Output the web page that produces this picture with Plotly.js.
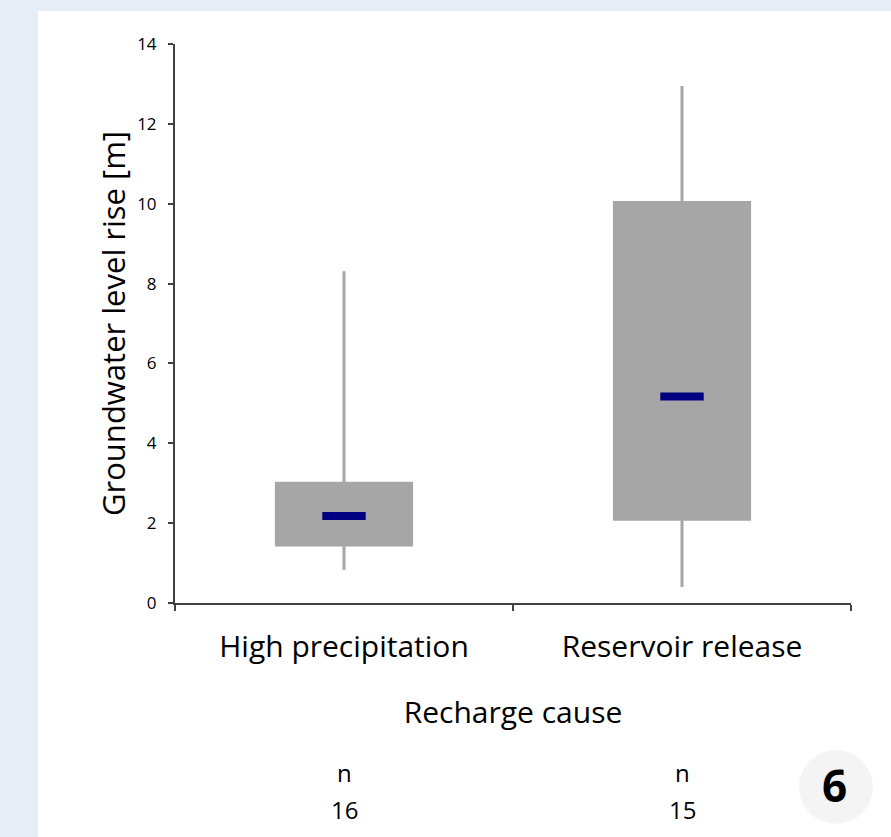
<!DOCTYPE html>
<html>
<head>
<meta charset="utf-8">
<script src="https://cdn.plot.ly/plotly-3.0.1.min.js"></script>
<style>html,body{margin:0;padding:0;background:#e6edf6;}</style>
</head>
<body>
<div id="chart" style="width:891px;height:837px;"></div>
<script>
// Data
const categories = ["High precipitation", "Reservoir release"];
const lowerWhisker = [0.83, 0.40];
const q1Values = [1.45, 2.10];
const medianValues = [2.18, 5.17];
const q3Values = [3.00, 10.03];
const upperWhisker = [8.31, 12.95];
const sampleSizes = [16, 15];
const yTicks = [0, 2, 4, 6, 8, 10, 12, 14];

const FONT = "'Open Sans', Lato, sans-serif";

const boxTrace = {
  type: "box",
  x: categories,
  q1: q1Values,
  median: medianValues,
  q3: q3Values,
  lowerfence: lowerWhisker,
  upperfence: upperWhisker,
  boxpoints: false,
  fillcolor: "#a6a6a6",
  line: {color: "#a6a6a6", width: 3},
  whiskerwidth: 0,
  width: 0.4,
  hoverinfo: "skip",
  showlegend: false
};

const medianTrace = {
  type: "scatter",
  mode: "markers",
  x: categories,
  y: medianValues,
  marker: {symbol: "line-ew", size: 31, color: "#000080", line: {color: "#000080", width: 8}},
  hoverinfo: "skip",
  showlegend: false
};

const annotations = [];
categories.forEach((c, i) => {
  annotations.push({xref: "x", yref: "paper", x: c, y: -0.304, text: "n", showarrow: false,
    font: {family: FONT, size: 24, color: "#000"}, xanchor: "center", yanchor: "middle"});
  annotations.push({xref: "x", yref: "paper", x: c, y: -0.370, text: String(sampleSizes[i]), showarrow: false,
    font: {family: FONT, size: 24, color: "#000"}, xanchor: "center", yanchor: "middle"});
});
annotations.push({xref: "paper", yref: "paper", x: 0.9763, y: -0.326, text: "<b>6</b>", showarrow: false,
  font: {family: FONT, size: 44, color: "#000"}, xanchor: "center", yanchor: "middle"});

const layout = {
  width: 891, height: 837,
  margin: {l: 175, r: 40, t: 44, b: 234},
  paper_bgcolor: "#e6edf6",
  plot_bgcolor: "#ffffff",
  font: {family: FONT, color: "#000"},
  shapes: [
    {type: "rect", xref: "paper", yref: "paper", x0: -0.2027, x1: 1.06, y0: -0.42, y1: 1.059,
      fillcolor: "#ffffff", line: {width: 0}, layer: "below"},
    {type: "circle", xref: "paper", yref: "paper", x0: 0.923, x1: 1.0325, y0: -0.395, y1: -0.263,
      fillcolor: "#f4f4f4", line: {width: 0}, layer: "below"}
  ],
  xaxis: {
    type: "category",
    range: [-0.5, 1.5],
    showline: true, linecolor: "#404040", linewidth: 2,
    ticks: "outside", tickson: "boundaries", ticklen: 6, tickwidth: 2, tickcolor: "#404040",
    tickfont: {family: FONT, size: 30, color: "#000"},
    ticklabelstandoff: 16,
    showgrid: false, zeroline: false,
    title: {text: "Recharge cause", font: {family: FONT, size: 30, color: "#000"}, standoff: 37},
    automargin: false,
    fixedrange: true
  },
  yaxis: {
    range: [0, 14],
    tickvals: yTicks,
    ticktext: yTicks.map(String),
    showline: true, linecolor: "#404040", linewidth: 2,
    ticks: "outside", ticklen: 5, tickwidth: 2, tickcolor: "#404040",
    tickfont: {family: FONT, size: 17, color: "#000"},
    ticklabelstandoff: 8,
    showgrid: false, zeroline: false,
    title: {text: "Groundwater level rise [m]", font: {family: FONT, size: 31, color: "#000"}, standoff: 2},
    automargin: false,
    fixedrange: true
  },
  annotations: annotations
};

Plotly.newPlot("chart", [boxTrace, medianTrace], layout, {displayModeBar: false, staticPlot: true});
</script>
</body>
</html>
